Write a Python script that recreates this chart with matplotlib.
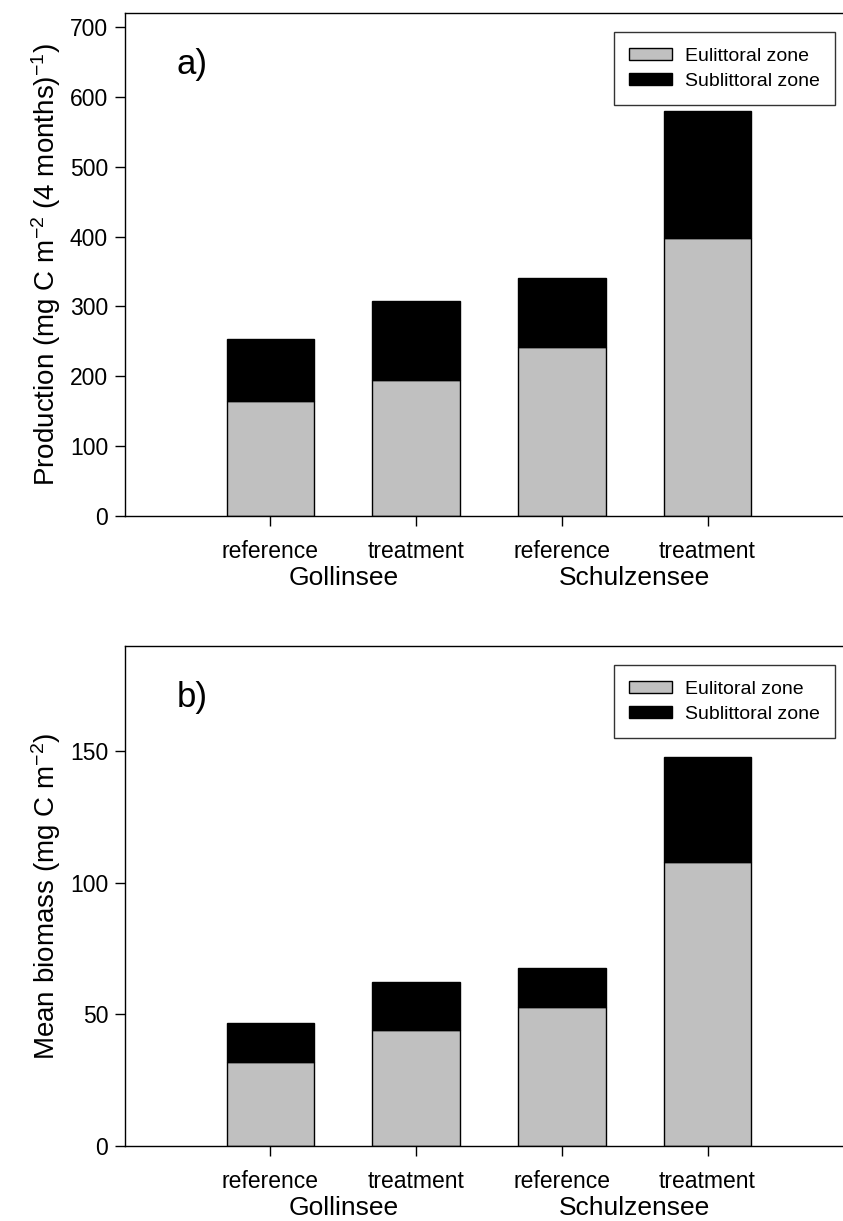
import matplotlib
matplotlib.use("Agg")
import matplotlib.pyplot as plt
from matplotlib.patches import Patch

plt.rcParams['font.family'] = ['Liberation Sans', 'DejaVu Sans']
plt.rcParams['mathtext.default'] = 'regular'

# data
treatments = ["reference", "treatment", "reference", "treatment"]
lakes = ["Gollinsee", "Schulzensee"]

prod_eulittoral = [164, 195, 242, 398]
prod_sublittoral = [90, 113, 99, 182]

biomass_eulittoral = [32, 44, 52.7, 108]
biomass_sublittoral = [14.7, 18.4, 15, 40]

GREY = "#c0c0c0"

fig = plt.figure(figsize=(8.43, 12.21), dpi=100)
ax1 = fig.add_axes([0.148, 0.5774, 0.852, 0.412])
ax2 = fig.add_axes([0.148, 0.0614, 0.852, 0.4095])


def draw_panel(ax, eu, sub, ylim, yticks, ylabel, tag, eu_label):
    x = list(range(1, len(eu) + 1))
    ax.bar(x, eu, width=0.6, color=GREY, edgecolor="black", linewidth=1.0)
    ax.bar(x, sub, width=0.6, bottom=eu, color="black", edgecolor="black", linewidth=1.0)
    ax.set_xlim(0, 4.93)
    ax.set_ylim(*ylim)
    ax.set_yticks(yticks)
    ax.set_xticks(x)
    ax.set_xticklabels(treatments)
    ax.tick_params(axis="both", direction="out", length=7, width=1, labelsize=16.5, pad=5)
    ax.tick_params(axis="x", pad=10)
    ax.spines["right"].set_visible(False)
    for s in ["left", "bottom", "top"]:
        ax.spines[s].set_linewidth(1.0)
    ax.set_ylabel(ylabel, fontsize=20, labelpad=5)
    ax.text(0.072, 0.897, tag, transform=ax.transAxes, fontsize=25, va="center", ha="left")

    # lake names under the tick labels
    for i, lake in enumerate(lakes):
        xc = (x[2 * i] + x[2 * i + 1]) / 2
        ax.text(xc, -0.123, lake, transform=ax.get_xaxis_transform(),
                ha="center", va="center", fontsize=19)

    handles = [Patch(facecolor=GREY, edgecolor="black", linewidth=1.0, label=eu_label),
               Patch(facecolor="black", edgecolor="black", label="Sublittoral zone")]
    leg = ax.legend(handles=handles, loc="upper right", bbox_to_anchor=(0.989, 0.962),
                    fontsize=14, frameon=True, fancybox=False, borderpad=0.8,
                    handlelength=2.2, handleheight=0.6, handletextpad=0.65,
                    labelspacing=0.42, borderaxespad=0)
    leg.get_frame().set_edgecolor("black")
    leg.get_frame().set_linewidth(1.0)


draw_panel(ax1, prod_eulittoral, prod_sublittoral, (0, 720), range(0, 701, 100),
           "Production (mg C m$^{-2}$ (4 months)$^{-1}$)", "a)", "Eulittoral zone")
draw_panel(ax2, biomass_eulittoral, biomass_sublittoral, (0, 190), [0, 50, 100, 150],
           "Mean biomass (mg C m$^{-2}$)", "b)", "Eulitoral zone")

fig.savefig("out.png", dpi=100)
